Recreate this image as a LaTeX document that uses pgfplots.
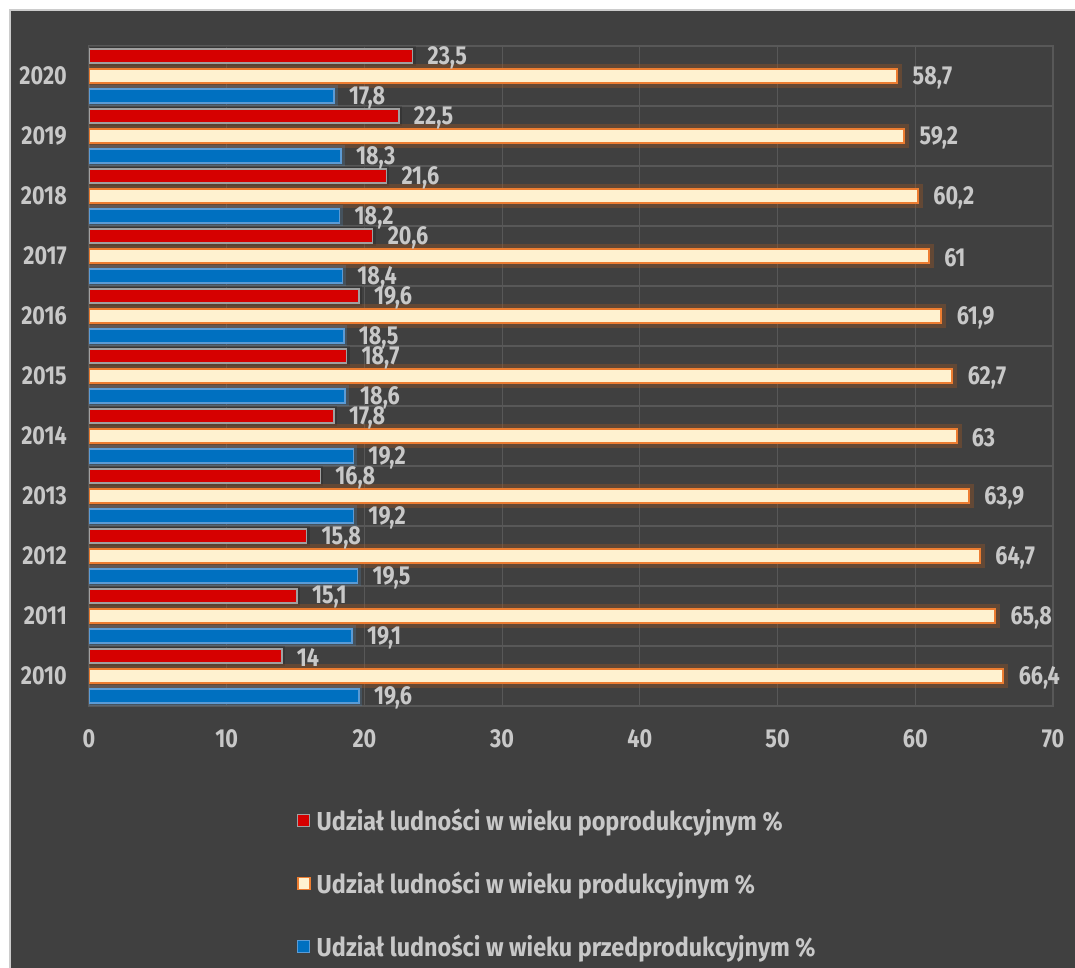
\documentclass[border=0pt]{standalone}
\usepackage{fontspec}
\setmainfont{Fira Sans}[FakeStretch=0.83]
\newfontfamily\legfont{Fira Sans}[FakeStretch=0.9]
\usepackage{pgfplots}
\usepackage{pgfplotstable}
\pgfplotsset{compat=1.18}

\definecolor{bgdark}{RGB}{64,64,64}
\definecolor{gridc}{RGB}{88,88,88}
\definecolor{txt}{RGB}{200,200,200}
\definecolor{redfill}{RGB}{214,0,0}
\definecolor{redline}{RGB}{160,160,160}
\definecolor{creamfill}{RGB}{255,242,208}
\definecolor{orangeline}{RGB}{237,125,49}
\definecolor{bluefill}{RGB}{0,112,192}
\definecolor{blueline}{RGB}{91,155,213}

% years 2010..2020 at y = 0..10
\pgfplotstableread{
idx year poprod prod przed
0 2010 14   66.4 19.6
1 2011 15.1 65.8 19.1
2 2012 15.8 64.7 19.5
3 2013 16.8 63.9 19.2
4 2014 17.8 63   19.2
5 2015 18.7 62.7 18.6
6 2016 19.6 61.9 18.5
7 2017 20.6 61   18.4
8 2018 21.6 60.2 18.2
9 2019 22.5 59.2 18.3
10 2020 23.5 58.7 17.8
}\shares

\newcommand{\lblfont}{\fontsize{26}{30}\selectfont\bfseries}

\begin{document}
\begin{tikzpicture}
\useasboundingbox (0,0) rectangle (1075pt,968pt);
\fill[white] (0,0) rectangle (1075pt,968pt);
\fill[bgdark] (10pt,0) rectangle (1075pt,958pt);
\draw[gray!40, line width=1.5pt] (10pt,0) -- (10pt,958pt) -- (1075pt,958pt);

\begin{axis}[
    at={(89pt,262pt)}, anchor=south west,
    scale only axis,
    width=964pt, height=660pt,
    xbar, bar width=14pt,
    xmin=0, xmax=70,
    ymin=-0.5, ymax=10.5,
    xtick={0,10,...,70},
    ytick={0,...,10},
    yticklabels={2010,2011,2012,2013,2014,2015,2016,2017,2018,2019,2020},
    minor ytick={-0.5,0.5,...,10.5},
    xmajorgrids, yminorgrids,
    grid style={gridc, line width=1.2pt},
    axis line style={gridc, line width=1.2pt},
    major tick length=0pt, minor tick length=0pt,
    /pgf/number format/assume math mode=true,
    /pgf/number format/use comma,
    tick label style={font=\lblfont, text=txt, inner sep=0pt},
    xticklabel style={yshift=-23pt},
    yticklabel style={xshift=-22pt},
    point meta=x,
    nodes near coords,
    every node near coord/.append style={font=\lblfont, text=txt, xshift=11pt, yshift=-1.5pt},
    legend image code/.code={\draw[#1] (0pt,-6pt) rectangle (12pt,6pt);},
    legend style={at={(rel axis cs:0.2158,-0.155)}, anchor=north west,
        draw=none, fill=none, inner sep=0pt,
        nodes={inner sep=0pt, text=txt, font=\legfont\lblfont},
        column sep=6pt, row sep=40pt},
    legend cell align=left,
]
\addplot[forget plot, draw=redline, fill=redfill, line width=1.5pt, bar shift=20pt,
    preaction={draw=black, draw opacity=0.15, line width=6pt}]
    table[x=poprod, y=idx] {\shares};
\addplot[forget plot, draw=orangeline, fill=creamfill, line width=2pt, bar shift=0pt,
    preaction={draw=orangeline!70!black, draw opacity=0.35, line width=10pt}]
    table[x=prod, y=idx] {\shares};
\addplot[forget plot, draw=blueline, fill=bluefill, line width=1.5pt, bar shift=-20pt,
    preaction={draw=blueline, draw opacity=0.2, line width=7pt}]
    table[x=przed, y=idx] {\shares};

\addlegendimage{draw=redline, fill=redfill, line width=1pt}
\addlegendentry{Udział ludności w wieku poprodukcyjnym \%}
\addlegendimage{draw=orangeline, fill=creamfill, line width=1.5pt}
\addlegendentry{Udział ludności w wieku produkcyjnym \%}
\addlegendimage{draw=blueline, fill=bluefill, line width=1pt}
\addlegendentry{Udział ludności w wieku przedprodukcyjnym \%}
\end{axis}
\end{tikzpicture}
\end{document}
